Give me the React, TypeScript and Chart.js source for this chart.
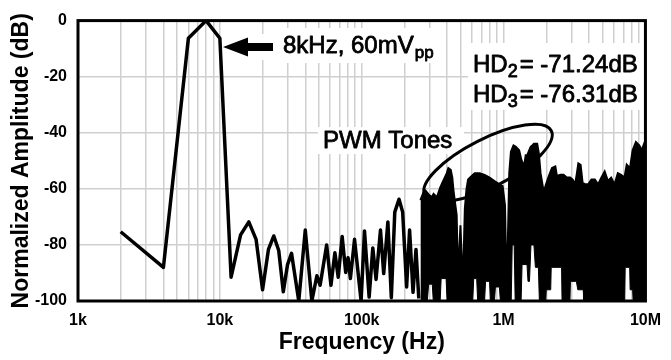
import React, { useEffect, useRef } from 'react';
import { Chart, registerables } from 'chart.js';

Chart.register(...registerables);

// ---- Data ----
// Resolved part of the spectrum (line)
const sparseFreq = [
  2000, 4000, 6000, 8000, 10000, 12000, 14000, 16000, 18000, 20000,
  22000, 24000, 26000, 28000, 30000, 32000, 36000, 40000, 44500, 48300,
  50900, 56600, 60700, 64700, 68300, 72800, 77100, 80100, 83200, 89000,
  99000, 104600, 112800, 119700, 126200, 135600, 142900, 152900, 161700, 171000,
  183200, 194400, 207300, 217500, 230000, 241300, 252500,
];
const sparseDb = [
  -75.3, -88, -6.3, 0, -6.3, -91.5, -76.4, -71.8, -78, -96,
  -81.6, -76.8, -82, -96.7, -87, -83, -100, -74.7, -100, -91,
  -94.4, -80, -94.4, -82.8, -91.5, -77, -89.8, -84.6, -92, -78,
  -100, -75, -98.6, -81.1, -92.3, -74.7, -90.2, -71.8, -98.8, -68.3,
  -63.7, -68.3, -95, -74.7, -96.9, -81.6, -99.1,
];

// Dense PWM-tone region: upper envelope
const denseTopFreq = [
  259400, 272100, 281000, 296300, 312800, 320900, 338900, 357300, 376700, 397800,
  408100, 424100, 435100, 442200, 454400, 467000, 476900, 496400, 516500, 533300,
  548000, 562300, 593700, 626000, 678300, 734800, 796000, 862400, 934200, 984900,
  1023500, 1045000, 1070500, 1096500, 1126700, 1174600, 1220600, 1287000, 1335300, 1394100,
  1432700, 1469800, 1510300, 1552400, 1592500, 1636400, 1725500, 1773100, 1821800, 1920800,
  1973800, 2081300, 2194200, 2317200, 2377300, 2510400, 2646400, 2790000, 2945900, 3071300,
  3191700, 3274400, 3365100, 3491400, 3605000, 3746300, 3949000, 4163500, 4396000, 4637300,
  4886500, 5160200, 5440900, 5735800, 6057300, 6388400, 6736500, 7112700, 7379800, 7780400,
  8124500, 8564000, 9044200, 9429000, 9794900, 10000000,
];
const denseTopDb = [
  -64, -61.3, -60.6, -62, -63, -61.8, -63, -59.6, -57, -54.4,
  -52.6, -53.2, -56, -60, -64.8, -69.4, -92, -73, -95, -67,
  -60, -56.7, -55.5, -54.4, -54.4, -55, -56, -57.2, -58.4, -59,
  -66, -90, -80, -54.4, -46.8, -44.5, -45, -46.2, -49.7, -52,
  -48, -48, -46.5, -45, -44.5, -43.9, -43.9, -47.4, -54.4, -61.3,
  -59, -55.5, -52.6, -52, -55.5, -55, -55, -56, -56, -56.7,
  -58.4, -55, -50.9, -51.4, -57.8, -58.4, -58.4, -56.7, -56.7, -58.4,
  -56, -53.8, -57.2, -56, -58.4, -54.4, -55, -56, -51.4, -52.6,
  -46.2, -43.3, -44.5, -46.2, -43.9, -42.7,
];

// Dense PWM-tone region: lower envelope
const denseBottomFreq = [
  259400, 290100, 296300, 314300, 319400, 357300, 363100, 393400, 399800, 606200,
  616000, 646100, 656600, 734800, 746600, 796000, 808800, 862400, 876200, 934200,
  949300, 1132200, 1150500, 1187900, 1207000, 1328900, 1350200, 1462800, 1486600, 1522600,
  1559600, 1636400, 1676200, 1758900, 1787500, 1983400, 1999400, 2149000, 2166400, 2562800,
  2583500, 2936500, 2960200, 3258400, 3338100, 3645200, 3674700, 7143300, 7201100, 7740400,
  7803000, 8124500, 8184600, 10000000,
];
const denseBottomDb = [
  -100, -100, -94, -94, -100, -100, -92, -92, -100, -100,
  -92, -92, -100, -100, -93, -93, -100, -100, -95, -95,
  -100, -100, -80, -80, -100, -100, -87, -87, -93, -93,
  -80, -80, -88, -88, -100, -100, -96, -96, -88, -88,
  -100, -100, -93, -93, -96, -96, -100, -100, -88, -88,
  -96, -96, -100, -100,
];

// Axis ticks
const xMinorTickValues: number[] = [];
for (let d = 1000; d < 1e7; d *= 10) for (let m = 1; m < 10; m++) xMinorTickValues.push(d * m);
xMinorTickValues.push(1e7);
const xLabelValues = [1e3, 1e4, 1e5, 1e6, 1e7];
const xLabelTexts = ['1k', '10k', '100k', '1M', '10M'];
const yMin = -100;
const yMax = 0;
const yStep = 20;

// Annotation texts
const toneMain = '8kHz, 60mV';
const toneSub = 'pp';
const hd2Text = ['HD', '2', '= -71.24dB'];
const hd3Text = ['HD', '3', '= -76.31dB'];
const pwmText = 'PWM Tones';

const SANS = "'Liberation Sans', Arial, sans-serif";

const annotPlugin = {
  id: 'annot',
  beforeDatasetsDraw(chart: any) {
    const ctx = chart.ctx as CanvasRenderingContext2D;
    ctx.save();
    ctx.fillStyle = '#ffffff';
    ctx.fillRect(226, 34, 56, 26);
    ctx.fillRect(280, 28, 158, 35);
    ctx.fillRect(468, 43, 178, 67);
    ctx.fillRect(318, 127, 146, 27);
    ctx.restore();
  },
  afterDatasetsDraw(chart: any) {
    const ctx = chart.ctx as CanvasRenderingContext2D;
    const { left, top, right, bottom } = chart.chartArea;
    ctx.save();
    // frame
    ctx.strokeStyle = '#000';
    ctx.lineWidth = 3;
    ctx.strokeRect(left, top, right - left, bottom - top);

    // arrow
    ctx.fillStyle = '#000';
    ctx.beginPath();
    ctx.moveTo(223, 47);
    ctx.lineTo(248, 37.5);
    ctx.lineTo(248, 43);
    ctx.lineTo(273, 43);
    ctx.lineTo(273, 51);
    ctx.lineTo(248, 51);
    ctx.lineTo(248, 56.5);
    ctx.closePath();
    ctx.fill();

    // texts (slightly emboldened with a thin stroke)
    ctx.textBaseline = 'alphabetic';
    ctx.textAlign = 'left';
    ctx.lineWidth = 0.8;
    ctx.lineJoin = 'round';
    const txt = (s: string, x: number, y: number, size: number) => {
      ctx.font = `${size}px ${SANS}`;
      ctx.fillText(s, x, y);
      ctx.strokeText(s, x, y);
      return ctx.measureText(s).width;
    };
    const w = txt(toneMain, 283, 53, 24);
    txt(toneSub, 283 + w + 1, 58, 17);

    const drawHD = (parts: string[], x: number, y: number) => {
      let cx = x + txt(parts[0], x, y, 24);
      cx += txt(parts[1], cx, y + 5, 18) + 2;
      txt(parts[2], cx, y, 24);
    };
    drawHD(hd2Text, 473, 72);
    drawHD(hd3Text, 473, 102);

    txt(pwmText, 323, 148, 24);

    // ellipse
    ctx.beginPath();
    ctx.lineWidth = 3;
    ctx.ellipse(488, 163, 71, 24, (-27 * Math.PI) / 180, 0, Math.PI * 2);
    ctx.stroke();
    ctx.restore();
  },
};

export default function App() {
  const ref = useRef<HTMLCanvasElement | null>(null);
  useEffect(() => {
    document.body.style.margin = '0';
    if (!ref.current) return;
    const sparse = sparseFreq.map((f, i) => ({ x: f, y: sparseDb[i] }));
    const top = denseTopFreq.map((f, i) => ({ x: f, y: denseTopDb[i] }));
    const bot = denseBottomFreq.map((f, i) => ({ x: f, y: denseBottomDb[i] }));
    const chart = new Chart(ref.current, {
      type: 'line',
      data: {
        datasets: [
          {
            data: sparse,
            borderColor: '#000',
            borderWidth: 3.5,
            pointRadius: 0,
            borderJoinStyle: 'round',
            fill: false,
            tension: 0,
          },
          {
            data: top,
            borderColor: '#000',
            borderWidth: 2,
            pointRadius: 0,
            backgroundColor: '#000',
            fill: '+1',
            tension: 0,
          },
          {
            data: bot,
            borderColor: '#000',
            borderWidth: 1,
            pointRadius: 0,
            fill: false,
            tension: 0,
          },
        ],
      },
      options: {
        responsive: false,
        animation: false,
        devicePixelRatio: 1,
        layout: { padding: { top: 14, right: 18, left: 0, bottom: 0 } },
        plugins: { legend: { display: false }, tooltip: { enabled: false } },
        scales: {
          x: {
            type: 'logarithmic',
            min: 1000,
            max: 1e7,
            afterBuildTicks: (s: any) => {
              s.ticks = xMinorTickValues.map((v) => ({ value: v }));
            },
            afterFit: (s: any) => {
              s.height = 59;
            },
            grid: { color: '#cfcfcf', lineWidth: 1.5, drawTicks: false },
            border: { display: false },
            ticks: {
              autoSkip: false,
              maxRotation: 0,
              padding: 10,
              color: '#000',
              font: { family: SANS, size: 16, weight: 'bold' },
              callback: (v: any) => {
                const i = xLabelValues.indexOf(Number(v));
                return i >= 0 ? xLabelTexts[i] : '';
              },
            },
            title: {
              display: true,
              text: 'Frequency (Hz)',
              color: '#000',
              font: { family: SANS, size: 23, weight: 'bold' },
              padding: { top: 0, bottom: 4 },
            },
          },
          y: {
            min: yMin,
            max: yMax,
            afterFit: (s: any) => {
              s.width = 78;
            },
            grid: { color: '#cfcfcf', lineWidth: 1.5, drawTicks: false },
            border: { display: false },
            ticks: {
              stepSize: yStep,
              padding: 11,
              color: '#000',
              font: { family: SANS, size: 16, weight: 'bold' },
              callback: (v: any) => String(v),
            },
            title: {
              display: true,
              text: 'Normalized Amplitude (dB)',
              color: '#000',
              font: { family: SANS, size: 23, weight: 'bold' },
              padding: { top: 8, bottom: 0 },
            },
          },
        },
      },
      plugins: [annotPlugin],
    } as any);
    return () => chart.destroy();
  }, []);
  return <canvas ref={ref} width={671} height={360} style={{ display: 'block' }} />;
}
